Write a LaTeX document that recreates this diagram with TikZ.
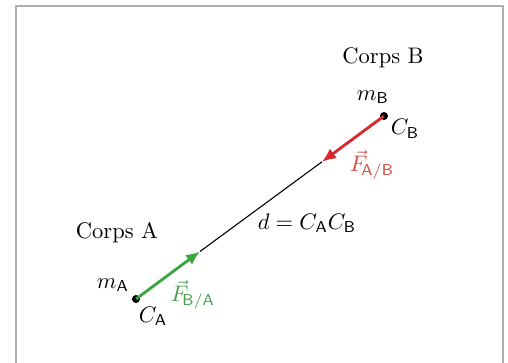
\documentclass[tikz,border=0pt]{standalone}
\usepackage{amsmath}
\usetikzlibrary{arrows.meta}
\definecolor{fgreen}{RGB}{60,165,65}
\definecolor{fred}{RGB}{215,40,45}
\definecolor{lred}{RGB}{205,80,70}
\definecolor{lgreen}{RGB}{70,160,80}
\definecolor{frame}{RGB}{175,175,175}
\begin{document}
\begin{tikzpicture}[x=1pt,y=-1pt,
  lbl/.style={inner sep=0pt,scale=2.25},
  dotc/.style={circle,fill=black,inner sep=0pt,minimum size=8pt},
  force/.style={line width=2.8pt,-{Latex[length=14pt,width=12pt]}}]
\useasboundingbox (0,0) rectangle (508,363);
\fill[white] (0,0) rectangle (508,363);
\draw[frame,line width=1.5pt] (16,366) -- (16,6) -- (503,6) -- (503,366);
\node[dotc] (ca) at (136,299) {};
\node[dotc] (cb) at (384,116) {};
\coordinate (ga) at (200,251.5);
\coordinate (rb) at (322,161.8);
\draw[line width=1.1pt] (ga) -- (rb);
\draw[force,fgreen] (ca.center) -- (ga);
\draw[force,fred] (cb.center) -- (rb);
\node[lbl] (corpsB) at (383,58) {Corps B};
\node[lbl] (corpsA) at (117,233) {Corps A};
\node[lbl] (mB) at (373,97) {$m_{\mathsf{B}}$};
\node[lbl] (cB) at (405,129) {$C_{\mathsf{B}}$};
\node[lbl,text=lred] (fab) at (372,165) {$\vec{F}_{\!\mathsf{A/B}}$};
\node[lbl] (d) at (307,223) {$d = C_{\mathsf{A}}C_{\mathsf{B}}$};
\node[lbl] (mA) at (113,285) {$m_{\mathsf{A}}$};
\node[lbl] (cA) at (153,316) {$C_{\mathsf{A}}$};
\node[lbl,text=lgreen] (fba) at (193,295) {$\vec{F}_{\!\mathsf{B/A}}$};
\end{tikzpicture}
\end{document}
